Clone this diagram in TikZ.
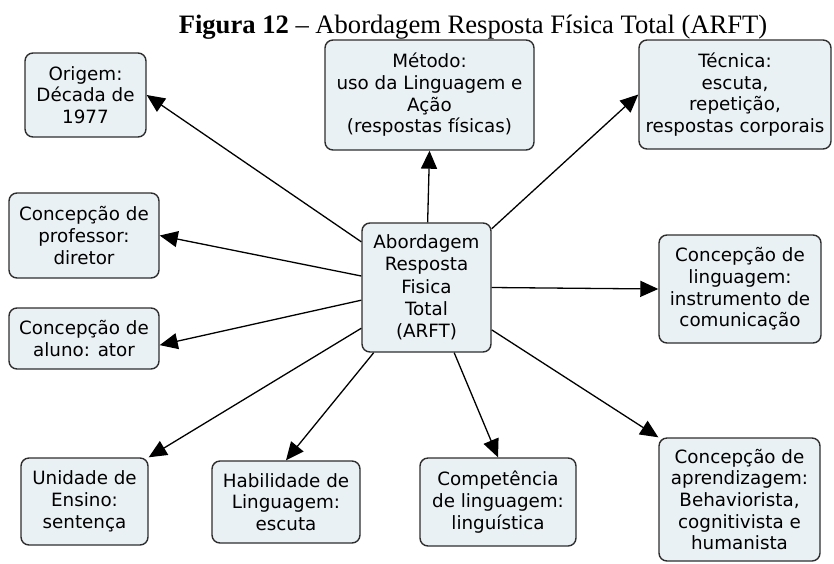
\documentclass[tikz,border=0pt]{standalone}
\usepackage{fontspec}
\usetikzlibrary{arrows.meta}
\newfontfamily\boxfont{DejaVu Sans}
\newfontfamily\titlefont{Liberation Serif}
\definecolor{boxfill}{HTML}{EAF1F4}
\definecolor{boxline}{HTML}{2E2E2E}
\tikzset{
  concept/.style={draw=boxline, fill=boxfill, line width=1.4pt, rounded corners=8pt,
    inner sep=0pt, align=center, font=\boxfont\fontsize{18.3}{21.7}\selectfont},
  link/.style={line width=1.3pt, -{Triangle[length=18pt,width=16pt]}}
}
\begin{document}
\begin{tikzpicture}[x=1pt,y=-1pt]
\useasboundingbox (0,0) rectangle (834,563);

% title
\node[anchor=base, inner sep=0pt, font=\titlefont\fontsize{26.6}{32}\selectfont] (title) at (473,33)
  {\textbf{Figura 12} – Abordagem Resposta Física Total (ARFT)};

% central concept
\node[concept, minimum width=129pt, minimum height=129pt,
  font=\boxfont\fontsize{18.3}{22.3}\selectfont] (c) at (426.5,287.5)
  {Abordagem\\Resposta\\Fisica\\Total\\(ARFT)};

% surrounding concepts
\node[concept, minimum width=121pt, minimum height=84pt] (orig) at (85.5,95)
  {Origem:\\Década de\\1977};
\node[concept, minimum width=209pt, minimum height=110pt] (met) at (429.5,95)
  {Método:\\uso da Linguagem e\\Ação\\(respostas físicas)};
\node[concept, minimum width=192pt, minimum height=109pt] (tec) at (735,94.5)
  {Técnica:\\escuta,\\repetição,\\respostas corporais};
\node[concept, minimum width=150pt, minimum height=85pt] (prof) at (84,235.5)
  {Concepção de\\professor:\\diretor};
\node[concept, minimum width=150pt, minimum height=61pt] (alu) at (84,338.5)
  {Concepção de\\aluno: ator};
\node[concept, minimum width=162pt, minimum height=108pt] (ling) at (740,289)
  {Concepção de\\linguagem:\\instrumento de\\comunicação};
\node[concept, minimum width=127pt, minimum height=87pt] (uni) at (84.5,501.5)
  {Unidade de\\Ensino:\\sentença};
\node[concept, minimum width=148pt, minimum height=82pt] (hab) at (286,502)
  {Habilidade de\\Linguagem:\\escuta};
\node[concept, minimum width=156pt, minimum height=88pt] (comp) at (498,502)
  {Competência\\de linguagem:\\linguística};
\node[concept, minimum width=161pt, minimum height=123pt] (apr) at (739.5,499.5)
  {Concepção de\\aprendizagem:\\Behaviorista,\\cognitivista e\\humanista};

% links from the central concept
\draw[link] (c.145) -- (orig.east);
\draw[link] (c.89) -- (met.south);
\draw[link] (c.42) -- (tec.west);
\draw[link] (c.170) -- (prof.east);
\draw[link] (c.191) -- (alu.355);
\draw[link] (c.0) -- (ling.west);
\draw[link] (c.212) -- (uni.north east);
\draw[link] (c.231) -- (hab.north);
\draw[link] (c.293) -- (comp.north);
\draw[link] (c.327) -- (apr.north west);
\end{tikzpicture}
\end{document}
